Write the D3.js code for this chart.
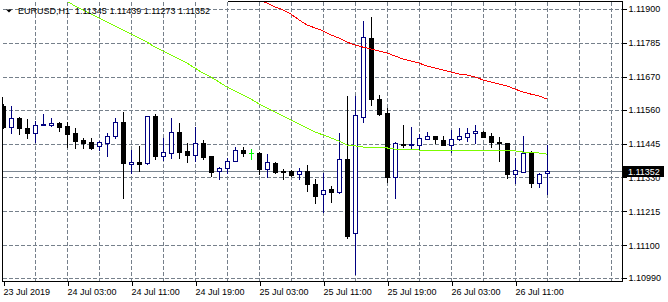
<!DOCTYPE html>
<html>
<head>
<meta charset="utf-8">
<script src="https://cdn.jsdelivr.net/npm/d3@7"></script>
<style>
  body { margin: 0; background: #fff; }
  svg { display: block; }
  text { font-family: "Liberation Sans", Arial, sans-serif; font-size: 9px; }
</style>
</head>
<body>
<script>
// EURUSD H1, 23 Jul 19:00 .. 26 Jul 15:00, one value per bar
const opens = [
  1.11572,1.11501,1.11531,1.11497,1.11480,1.11508,1.11508,1.11514,1.11504,1.11480,
  1.11457,1.11450,1.11437,1.11447,1.11470,1.11518,1.11376,1.11382,1.11379,1.11538,
  1.11403,1.11413,1.11484,1.11420,1.11406,1.11447,1.11403,1.11352,1.11362,1.11386,
  1.11423,1.11413,1.11413,1.11359,1.11379,1.11352,1.11352,1.11342,1.11352,1.11308,
  1.11274,1.11291,1.11281,1.11393,1.11142,1.11535,1.11802,1.11595,1.11548,1.11332,
  1.11443,1.11440,1.11440,1.11460,1.11470,1.11457,1.11440,1.11460,1.11467,1.11480,
  1.11484,1.11470,1.11450,1.11447,1.11342,1.11349,1.11416,1.11311,1.11345
];
const highs = [
  1.11579,1.11572,1.11535,1.11528,1.11521,1.11545,1.11531,1.11518,1.11518,1.11497,
  1.11464,1.11464,1.11453,1.11480,1.11531,1.11552,1.11423,1.11437,1.11538,1.11545,
  1.11464,1.11531,1.11514,1.11447,1.11501,1.11457,1.11403,1.11365,1.11396,1.11433,
  1.11433,1.11426,1.11416,1.11409,1.11382,1.11359,1.11355,1.11362,1.11372,1.11325,
  1.11345,1.11301,1.11480,1.11606,1.11606,1.11859,1.11873,1.11609,1.11565,1.11450,
  1.11508,1.11501,1.11477,1.11484,1.11470,1.11470,1.11491,1.11497,1.11497,1.11508,
  1.11487,1.11480,1.11467,1.11447,1.11396,1.11470,1.11420,1.11345,1.11439
];
const lows = [
  1.11497,1.11480,1.11477,1.11464,1.11450,1.11508,1.11504,1.11487,1.11433,1.11430,
  1.11430,1.11426,1.11423,1.11403,1.11464,1.11261,1.11345,1.11352,1.11376,1.11393,
  1.11389,1.11396,1.11396,1.11382,1.11386,1.11393,1.11335,1.11325,1.11345,1.11386,
  1.11403,1.11393,1.11342,1.11332,1.11345,1.11325,1.11335,1.11325,1.11284,1.11244,
  1.11213,1.11247,1.11278,1.11125,1.11003,1.11518,1.11575,1.11541,1.11315,1.11261,
  1.11433,1.11430,1.11426,1.11460,1.11447,1.11440,1.11416,1.11457,1.11453,1.11447,
  1.11467,1.11433,1.11386,1.11328,1.11311,1.11349,1.11298,1.11298,1.11273
];
const closes = [
  1.11501,1.11531,1.11497,1.11480,1.11508,1.11511,1.11514,1.11501,1.11477,1.11453,
  1.11447,1.11430,1.11450,1.11470,1.11518,1.11379,1.11382,1.11376,1.11538,1.11403,
  1.11416,1.11484,1.11416,1.11406,1.11447,1.11399,1.11349,1.11362,1.11386,1.11423,
  1.11413,1.11413,1.11359,1.11382,1.11349,1.11348,1.11338,1.11352,1.11308,1.11267,
  1.11288,1.11281,1.11393,1.11132,1.11541,1.11805,1.11595,1.11545,1.11332,1.11447,
  1.11440,1.11443,1.11464,1.11470,1.11460,1.11440,1.11460,1.11470,1.11480,1.11487,
  1.11467,1.11450,1.11447,1.11342,1.11355,1.11413,1.11311,1.11342,1.11352
];

// moving averages (null = not on screen)
const maGreen = [
  null,null,null,null,null,null,null,null,
  1.11927,1.11910,1.11897,1.11883,1.11870,1.11856,1.11843,1.11829,1.11815,1.11802,
  1.11788,1.11771,1.11758,1.11744,1.11731,1.11717,1.11700,1.11683,1.11670,1.11653,
  1.11636,1.11623,1.11609,1.11595,1.11579,1.11565,1.11552,1.11538,1.11525,1.11511,
  1.11497,1.11484,1.11474,1.11464,1.11453,1.11440,1.11437,1.11433,1.11430,1.11430,
  1.11430,1.11426,1.11426,1.11426,1.11423,1.11423,1.11423,1.11423,1.11420,1.11420,
  1.11420,1.11420,1.11423,1.11423,1.11423,1.11420,1.11420,1.11416,1.11413,1.11413,
  1.11409
];
const maRed = [
  ...Array(32).fill(null),
  1.11930,
  1.11920,1.11907,1.11897,1.11883,1.11863,1.11846,1.11836,1.11826,
  1.11812,1.11802,1.11788,1.11778,1.11771,1.11765,1.11758,1.11751,1.11741,1.11731,
  1.11724,1.11717,1.11707,1.11700,1.11694,1.11687,1.11680,1.11677,1.11670,1.11660,
  1.11653,1.11646,1.11640,1.11629,1.11619,1.11612,1.11606,1.11595
];

const priceTicks = [1.11900, 1.11785, 1.11670, 1.11560, 1.11445, 1.11330, 1.11215, 1.11100, 1.10990];
const timeTickBars = [0, 8, 16, 24, 32, 40, 48, 56, 64];
const timeTickLabels = ['23 Jul 2019', '24 Jul 03:00', '24 Jul 11:00', '24 Jul 19:00', '25 Jul 03:00',
  '25 Jul 11:00', '25 Jul 19:00', '26 Jul 03:00', '26 Jul 11:00'];
const gridBars = d3.range(4, 77, 4);

const width = 668, height = 302;
const plot = { left: 3, right: 622, top: 2, bottom: 281 };

const x = d3.scaleLinear().domain([0, 68]).range([3, 547]);
const y = d3.scaleLinear().domain([1.10990, 1.11900]).range([278, 9]);
const px = v => Math.round(v) + 0.5;

const svg = d3.select('body').append('svg')
  .attr('width', width)
  .attr('height', height)
  .style('background', '#fff');

svg.append('clipPath').attr('id', 'clip')
  .append('rect')
  .attr('x', plot.left).attr('y', plot.top)
  .attr('width', plot.right - plot.left).attr('height', plot.bottom - plot.top);

const grid = svg.append('g')
  .attr('stroke', '#76808b')
  .attr('stroke-dasharray', '4,2')
  .attr('shape-rendering', 'crispEdges');
grid.selectAll('.vg').data(gridBars).join('line')
  .attr('class', 'vg')
  .attr('x1', d => px(x(d))).attr('x2', d => px(x(d)))
  .attr('y1', plot.top).attr('y2', plot.bottom);
grid.selectAll('.hg').data(priceTicks).join('line')
  .attr('class', 'hg')
  .attr('x1', plot.left).attr('x2', plot.right)
  .attr('y1', d => px(y(d))).attr('y2', d => px(y(d)));

const last = closes[closes.length - 1];

const stage = svg.append('g').attr('clip-path', 'url(#clip)');

// bid line
stage.append('line')
  .attr('x1', plot.left).attr('x2', plot.right)
  .attr('y1', px(y(last))).attr('y2', px(y(last)))
  .attr('stroke', '#7c8792')
  .attr('shape-rendering', 'crispEdges');

const candles = opens.map((o, i) => ({ i, o, h: highs[i], l: lows[i], c: closes[i] }));
const colorOf = d => d.c > d.o ? '#000080' : d.c < d.o ? '#000' : '#00ff00';

const cg = stage.append('g').attr('shape-rendering', 'crispEdges');
const cEnter = cg.selectAll('.candle').data(candles).join('g').attr('class', 'candle');

cEnter.append('line')
  .attr('x1', d => Math.round(x(d.i)) + 0.5).attr('x2', d => Math.round(x(d.i)) + 0.5)
  .attr('y1', d => Math.round(y(d.h))).attr('y2', d => Math.round(y(d.l)) + 1)
  .attr('stroke', colorOf);

cEnter.each(function (d) {
  const g = d3.select(this);
  const cx = Math.round(x(d.i));
  const top = Math.round(y(Math.max(d.o, d.c)));
  const bot = Math.round(y(Math.min(d.o, d.c)));
  if (d.c > d.o) {
    g.append('rect')
      .attr('x', cx - 1.5).attr('y', top + 0.5)
      .attr('width', 4).attr('height', Math.max(bot - top, 1))
      .attr('fill', '#fff').attr('stroke', '#000080');
  } else if (d.c < d.o) {
    g.append('rect')
      .attr('x', cx - 2).attr('y', top)
      .attr('width', 5).attr('height', bot - top + 1)
      .attr('fill', '#000');
  } else {
    g.append('line')
      .attr('x1', cx - 2).attr('x2', cx + 3)
      .attr('y1', top + 0.5).attr('y2', top + 0.5)
      .attr('stroke', '#00ff00');
  }
});

const maLine = d3.line()
  .defined(d => d != null)
  .x((d, i) => x(i))
  .y(d => y(d));

stage.append('path').datum(maGreen)
  .attr('d', maLine).attr('fill', 'none')
  .attr('stroke', '#7cfc00').attr('stroke-width', 1)
  .attr('shape-rendering', 'crispEdges');
stage.append('path').datum(maRed)
  .attr('d', maLine).attr('fill', 'none')
  .attr('stroke', '#ff0000').attr('stroke-width', 1)
  .attr('shape-rendering', 'crispEdges');

// frame (partly hidden at top-left, as in the terminal)
const frame = svg.append('g').attr('stroke', '#000').attr('shape-rendering', 'crispEdges');
frame.append('line').attr('x1', 228).attr('x2', plot.right + 0.5).attr('y1', 1.5).attr('y2', 1.5);
frame.append('line').attr('x1', plot.right + 0.5).attr('x2', plot.right + 0.5).attr('y1', 1).attr('y2', plot.bottom + 1);
frame.append('line').attr('x1', 2).attr('x2', plot.right + 1).attr('y1', plot.bottom + 0.5).attr('y2', plot.bottom + 0.5);
frame.append('line').attr('x1', 2.5).attr('x2', 2.5).attr('y1', 97).attr('y2', plot.bottom + 1);

// price axis
const yAxis = svg.append('g')
  .attr('transform', `translate(${plot.right + 0.5},0)`)
  .call(d3.axisRight(y).tickValues(priceTicks).tickFormat(d3.format('.5f')).tickSize(4).tickPadding(2).tickSizeOuter(0));
yAxis.select('.domain').remove();
yAxis.selectAll('.tick line').attr('stroke', '#000').attr('shape-rendering', 'crispEdges');
yAxis.selectAll('.tick text').attr('fill', '#000').style('font-size', '9px').style('font-family', '"Liberation Sans", Arial, sans-serif');

// time axis
const xAxis = svg.append('g')
  .attr('transform', `translate(0,${plot.bottom + 0.5})`)
  .call(d3.axisBottom(x).tickValues(timeTickBars)
    .tickFormat((d, i) => timeTickLabels[i]).tickSize(4).tickPadding(3).tickSizeOuter(0));
xAxis.select('.domain').remove();
xAxis.selectAll('.tick line').attr('stroke', '#000').attr('shape-rendering', 'crispEdges')
  .attr('transform', 'translate(0.5,0)');
xAxis.selectAll('.tick text').attr('fill', '#000').attr('text-anchor', 'start').attr('x', 0)
  .style('font-size', '9px').style('font-family', '"Liberation Sans", Arial, sans-serif');

// current price tag
const tagY = Math.round(y(last));
svg.append('rect')
  .attr('x', plot.right + 1).attr('y', tagY - 5)
  .attr('width', 41).attr('height', 11)
  .attr('fill', '#000');
svg.append('text')
  .attr('x', 628).attr('y', tagY + 3.5)
  .attr('fill', '#fff')
  .text(d3.format('.5f')(last));

// title
svg.append('path')
  .attr('d', 'M6,9.5 L12,9.5 L9,12.5 Z')
  .attr('fill', '#000');
svg.append('text')
  .attr('x', 18).attr('y', 13.5)
  .attr('fill', '#000')
  .style('white-space', 'pre')
  .text(`EURUSD,H1  ${[opens, highs, lows, closes].map(a => d3.format('.5f')(a[a.length - 1])).join(' ')}`);
</script>
</body>
</html>
